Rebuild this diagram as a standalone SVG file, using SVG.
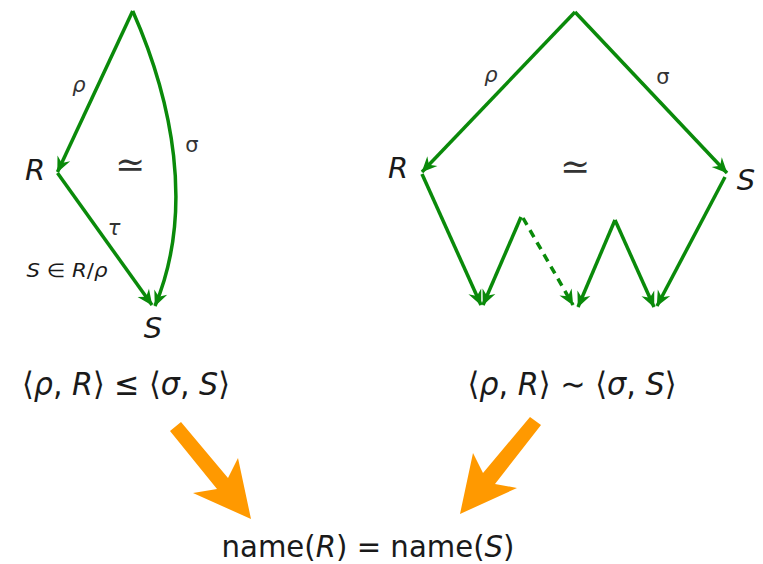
<svg xmlns="http://www.w3.org/2000/svg" width="763" height="564" viewBox="0 0 763 564">
<defs>
<marker id="ah" markerUnits="userSpaceOnUse" viewBox="-17 -8 18 16" refX="0" refY="0" markerWidth="18" markerHeight="16" orient="auto">
<path d="M0.5,0 L-15,-7 L-10,0 L-15,7 Z" fill="#0a8a0a"/>
</marker>
<style>
.e{fill:none;stroke:#0a8a0a;stroke-width:3.5;marker-end:url(#ah)}
.d{stroke-dasharray:8 6}
.t{font-family:"DejaVu Sans","Liberation Sans",sans-serif;fill:#1a1a1a}
.i{font-style:italic}
.lbl{font-size:21px;fill:#333}
.big{font-size:29px}
.eq{font-family:"Liberation Serif","DejaVu Serif",serif;font-size:36px;fill:#333}
.o{fill:#ff9900}
</style>
</defs>
<g id="connectors">
<path class="e" d="M132.7,11 L57.5,172"/>
<path class="e" d="M132.7,11 C172,100 195,210 155,306"/>
<path class="e" d="M57.5,173 L152,305"/>
<path class="e" d="M575,12 L422,172"/>
<path class="e" d="M575,12 L727,173"/>
<path class="e" d="M422,174 L481,305"/>
<path class="e" d="M521,217 L483,305"/>
<path class="e d" d="M523,218 L573,305"/>
<path class="e" d="M615,220 L578,307"/>
<path class="e" d="M615,220 L654,307"/>
<path class="e" d="M725,177 L657,306"/>
<polygon class="o" points="170,431 181,422 228,478 238,458 251,519 193,493 217,489"/>
<polygon class="o" points="530,417 541,425 495,484 517,488 460,514 473,453 483,473"/>
</g>
<g id="left-diagram">
<text class="t i big" x="35" y="180" text-anchor="middle">R</text>
<text class="t i big" x="153" y="338" text-anchor="middle">S</text>
<text class="t i lbl" x="79" y="92" text-anchor="middle">ρ</text>
<text class="t lbl" x="192" y="152" text-anchor="middle">σ</text>
<text class="eq" x="130" y="177" text-anchor="middle">≃</text>
<text class="t i lbl" x="114" y="235" text-anchor="middle">τ</text>
<text class="t" x="67" y="277" text-anchor="middle" font-size="19" fill="#222" textLength="81" lengthAdjust="spacingAndGlyphs"><tspan class="i">S</tspan> ∈ <tspan class="i">R</tspan>/<tspan class="i">ρ</tspan></text>
</g>
<g id="right-diagram">
<text class="t i big" x="398" y="178" text-anchor="middle">R</text>
<text class="t i big" x="746" y="190" text-anchor="middle">S</text>
<text class="t i lbl" x="491" y="82" text-anchor="middle">ρ</text>
<text class="t lbl" x="663" y="84" text-anchor="middle">σ</text>
<text class="eq" x="575" y="179" text-anchor="middle">≃</text>
</g>
<g id="formula-left">
<text class="t" x="126" y="395" text-anchor="middle" font-size="32" textLength="208" lengthAdjust="spacingAndGlyphs">⟨<tspan class="i">ρ</tspan>, <tspan class="i">R</tspan>⟩ ≤ ⟨<tspan class="i">σ</tspan>, <tspan class="i">S</tspan>⟩</text>
</g>
<g id="formula-right">
<text class="t" x="572" y="395" text-anchor="middle" font-size="32" textLength="209" lengthAdjust="spacingAndGlyphs">⟨<tspan class="i">ρ</tspan>, <tspan class="i">R</tspan>⟩ ∼ ⟨<tspan class="i">σ</tspan>, <tspan class="i">S</tspan>⟩</text>
</g>
<g id="result">
<text class="t" x="368" y="557" text-anchor="middle" font-size="31" textLength="293" lengthAdjust="spacingAndGlyphs">name(<tspan class="i">R</tspan>) = name(<tspan class="i">S</tspan>)</text>
</g>
</svg>
